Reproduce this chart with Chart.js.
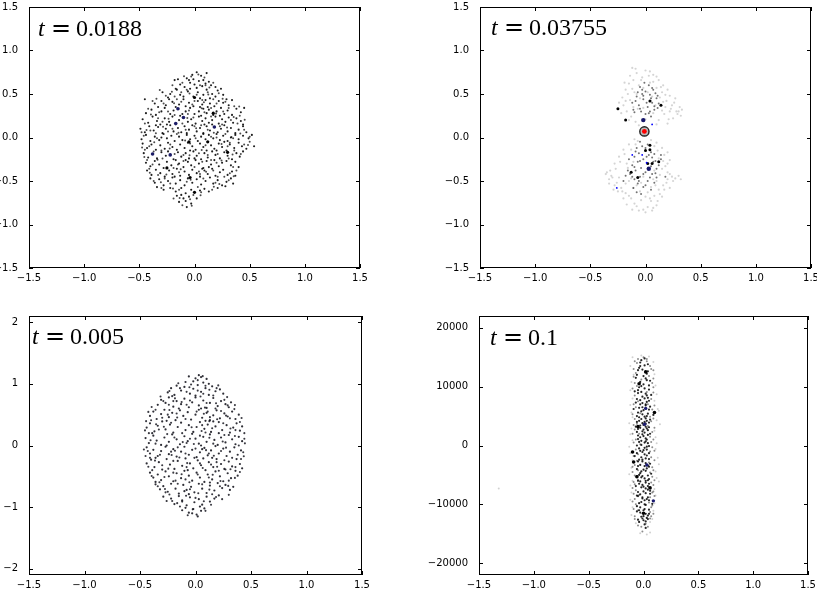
<!DOCTYPE html>
<html>
<head>
<meta charset="utf-8">
<script src="https://cdn.jsdelivr.net/npm/chart.js@4/dist/chart.umd.min.js"></script>
<style>
  html, body { margin: 0; padding: 0; background: #fff; }
  body { width: 817px; height: 594px; position: relative; overflow: hidden; }
  .pane { position: absolute; }
</style>
</head>
<body>
<div class="pane" style="left:0;top:0"><canvas id="p1" width="408" height="297"></canvas></div>
<div class="pane" style="left:408px;top:0"><canvas id="p2" width="409" height="297"></canvas></div>
<div class="pane" style="left:0;top:297px"><canvas id="p3" width="408" height="297"></canvas></div>
<div class="pane" style="left:408px;top:297px"><canvas id="p4" width="409" height="297"></canvas></div>

<script>
// tick positions
const xTicks = [-1.5, -1.0, -0.5, 0.0, 0.5, 1.0, 1.5];
const unitTicks = [-1.5, -1.0, -0.5, 0.0, 0.5, 1.0, 1.5];
const wideTicks = [-2, -1, 0, 1, 2];
const velTicks = [-20000, -10000, 0, 10000, 20000];

// t = 0.0188
const tlDots = [
  [0.02,0.75],[0.11,0.74],[-0.07,0.68],[0.06,0.71],[-0.02,0.72],[0.08,0.66],[-0.15,0.67],[-0.05,0.66],
  [-0.18,0.66],[-0.13,0.61],[-0.04,0.63],[0.0,0.61],[0.04,0.65],[0.1,0.62],[0.15,0.6],[0.19,0.58],[-0.09,0.58],[0.02,0.57],[-0.17,0.56],[0.07,0.59],[0.13,0.64],[-0.01,0.67],
  [-0.29,0.52],[-0.22,0.5],[-0.16,0.55],[-0.1,0.47],[-0.06,0.53],[-0.01,0.47],[0.03,0.52],[0.08,0.49],[0.11,0.55],[0.16,0.5],[0.21,0.54],[0.26,0.49],[-0.24,0.46],[0.14,0.45],[-0.13,0.49],[0.05,0.45],[0.19,0.47],[-0.04,0.56],[0.24,0.56],
  [-0.45,0.44],[-0.36,0.39],[-0.3,0.42],[-0.26,0.37],[-0.2,0.41],[-0.14,0.38],[-0.1,0.44],[-0.05,0.4],[-0.01,0.36],[0.03,0.42],[0.07,0.38],[0.1,0.43],[0.14,0.39],[0.18,0.36],[0.22,0.42],[0.26,0.4],[0.31,0.37],[0.34,0.43],[-0.33,0.35],[-0.17,0.35],[0.12,0.35],[-0.08,0.36],[0.05,0.35],[0.29,0.44],[-0.23,0.44],
  [-0.44,0.28],[-0.39,0.32],[-0.35,0.26],[-0.3,0.3],[-0.27,0.34],[-0.22,0.27],[-0.19,0.31],[-0.11,0.27],[-0.08,0.3],[-0.04,0.34],[0.0,0.27],[0.04,0.3],[0.08,0.33],[0.11,0.28],[0.13,0.32],[0.17,0.26],[0.2,0.3],[0.24,0.34],[0.27,0.27],[0.3,0.31],[0.34,0.26],[0.38,0.33],[0.42,0.29],[0.45,0.34],[-0.13,0.25],[0.06,0.25],[0.23,0.25],
  [-0.47,0.21],[-0.42,0.17],[-0.38,0.24],[-0.34,0.19],[-0.31,0.15],[-0.27,0.22],[-0.23,0.18],[-0.2,0.24],[-0.14,0.2],[-0.06,0.18],[-0.03,0.21],[0.01,0.16],[0.04,0.24],[0.07,0.19],[0.1,0.22],[0.13,0.17],[0.16,0.2],[0.19,0.24],[0.22,0.16],[0.25,0.21],[0.28,0.18],[0.31,0.23],[0.35,0.17],[0.38,0.22],[0.42,0.19],[0.44,0.15],[-0.25,0.15],[0.09,0.15],
  [-0.49,0.1],[-0.45,0.06],[-0.41,0.13],[-0.37,0.08],[-0.33,0.12],[-0.29,0.05],[-0.26,0.1],[-0.22,0.14],[-0.19,0.07],[-0.15,0.11],[-0.12,0.06],[-0.09,0.13],[-0.05,0.09],[-0.02,0.14],[0.02,0.07],[0.05,0.11],[0.08,0.05],[0.11,0.13],[0.14,0.08],[0.21,0.06],[0.24,0.1],[0.27,0.14],[0.3,0.07],[0.33,0.11],[0.37,0.05],[0.4,0.09],[0.44,0.13],[0.47,0.06],[-0.35,0.14],[0.16,0.15],[-0.07,0.05],
  [-0.48,-0.02],[-0.44,0.03],[-0.4,-0.04],[-0.36,0.01],[-0.32,-0.03],[-0.28,0.04],[-0.25,-0.01],[-0.21,0.02],[-0.18,-0.04],[-0.14,0.01],[-0.11,-0.03],[-0.07,0.03],[-0.04,-0.02],[0.0,0.02],[0.03,-0.04],[0.06,0.01],[0.1,-0.02],[0.13,0.03],[0.17,-0.01],[0.2,0.04],[0.23,-0.03],[0.26,0.02],[0.3,-0.04],[0.33,0.0],[0.37,0.03],[0.4,-0.02],[0.44,0.02],[0.49,-0.01],[0.52,0.03],[-0.3,0.0],[0.08,0.04],
  [-0.47,-0.07],[-0.43,-0.12],[-0.39,-0.08],[-0.35,-0.14],[-0.31,-0.09],[-0.27,-0.13],[-0.24,-0.06],[-0.2,-0.11],[-0.16,-0.14],[-0.13,-0.08],[-0.09,-0.12],[-0.06,-0.06],[-0.02,-0.1],[0.01,-0.14],[0.05,-0.07],[0.08,-0.11],[0.11,-0.15],[0.15,-0.09],[0.18,-0.13],[0.22,-0.07],[0.25,-0.11],[0.29,-0.15],[0.32,-0.08],[0.36,-0.12],[0.4,-0.06],[0.43,-0.1],[0.47,-0.13],[0.54,-0.1],[-0.04,-0.15],[0.27,-0.05],[0.2,-0.15],
  [-0.46,-0.18],[-0.42,-0.23],[-0.34,-0.24],[-0.3,-0.17],[-0.26,-0.21],[-0.19,-0.25],[-0.15,-0.17],[-0.12,-0.22],[-0.08,-0.18],[-0.05,-0.24],[-0.01,-0.16],[0.02,-0.21],[0.06,-0.25],[0.09,-0.18],[0.12,-0.23],[0.16,-0.16],[0.19,-0.2],[0.23,-0.24],[0.27,-0.17],[0.3,-0.21],[0.34,-0.25],[0.38,-0.18],[0.41,-0.22],[0.44,-0.16],[-0.24,-0.16],[0.0,-0.24],
  [-0.44,-0.29],[-0.4,-0.33],[-0.36,-0.27],[-0.32,-0.31],[-0.28,-0.35],[-0.25,-0.28],[-0.21,-0.32],[-0.17,-0.26],[-0.14,-0.3],[-0.1,-0.34],[-0.06,-0.28],[-0.03,-0.32],[0.01,-0.26],[0.04,-0.3],[0.08,-0.35],[0.11,-0.27],[0.15,-0.31],[0.18,-0.26],[0.22,-0.33],[0.25,-0.29],[0.29,-0.27],[0.33,-0.32],[0.37,-0.28],[0.4,-0.34],[-0.08,-0.26],[0.13,-0.34],
  [-0.43,-0.38],[-0.39,-0.43],[-0.35,-0.37],[-0.31,-0.41],[-0.27,-0.45],[-0.23,-0.38],[-0.2,-0.42],[-0.16,-0.36],[-0.13,-0.44],[-0.09,-0.39],[-0.05,-0.43],[-0.02,-0.37],[0.02,-0.41],[0.05,-0.45],[0.09,-0.38],[0.12,-0.42],[0.16,-0.36],[0.19,-0.44],[0.23,-0.4],[0.26,-0.37],[0.3,-0.43],[0.34,-0.39],[0.37,-0.44],[-0.18,-0.45],[0.07,-0.36],
  [-0.4,-0.47],[-0.36,-0.52],[-0.32,-0.48],[-0.28,-0.55],[-0.24,-0.5],[-0.2,-0.46],[-0.17,-0.53],[-0.13,-0.49],[-0.09,-0.55],[-0.06,-0.47],[-0.02,-0.52],[0.02,-0.48],[0.06,-0.54],[0.1,-0.5],[0.14,-0.46],[0.17,-0.53],[0.21,-0.49],[0.25,-0.55],[0.29,-0.51],[0.33,-0.47],[0.35,-0.53],
  [-0.34,-0.57],[-0.28,-0.6],[-0.22,-0.58],[-0.17,-0.62],[-0.12,-0.58],[-0.08,-0.64],[-0.03,-0.6],[0.05,-0.61],[0.09,-0.59],[0.13,-0.62],[0.21,-0.58],[0.28,-0.56],
  [-0.16,-0.67],[-0.1,-0.7],[-0.05,-0.68],[-0.14,-0.74],[-0.08,-0.73],[-0.03,-0.76],[-0.07,-0.8],[0.02,-0.7],[-0.12,-0.66]
];
const tlDots2 = [
  [-0.03,0.7],[0.09,0.69],[-0.11,0.63],[0.05,0.6],[0.17,0.63],[-0.2,0.6],[-0.07,0.55],[0.12,0.52],[0.22,0.51],[-0.26,0.48],[-0.18,0.47],[0.02,0.49],[0.07,0.43],[-0.12,0.41],[0.2,0.39],[0.28,0.41],[-0.38,0.42],[-0.28,0.39],[-0.02,0.38],[0.15,0.34],[0.36,0.36],[-0.42,0.33],[-0.24,0.3],[-0.06,0.27],[0.09,0.29],[0.26,0.3],[0.41,0.25],[-0.33,0.22],[-0.18,0.26],[-0.01,0.23],[0.15,0.24],[0.33,0.2],[-0.45,0.16],[-0.29,0.18],[-0.11,0.16],[0.06,0.14],[0.23,0.13],[0.39,0.16],[-0.4,0.08],[-0.24,0.07],[-0.08,0.09],[0.12,0.09],[0.28,0.04],[0.45,0.09],[-0.46,0.02],[-0.34,-0.01],[-0.16,0.04],[0.01,-0.01],[0.15,0.01],[0.35,-0.01],[0.5,0.01],
  [-0.41,-0.1],[-0.22,-0.08],[-0.04,-0.07],[0.1,-0.09],[0.3,-0.1],[0.45,-0.08],[-0.37,-0.16],[-0.18,-0.19],[0.04,-0.18],[0.21,-0.19],[0.36,-0.15],[-0.43,-0.26],[-0.29,-0.24],[-0.1,-0.27],[0.07,-0.28],[0.2,-0.29],[0.31,-0.24],[-0.38,-0.31],[-0.19,-0.35],[0.0,-0.34],[0.17,-0.38],[0.35,-0.34],[-0.33,-0.43],[-0.14,-0.4],[0.04,-0.39],[0.21,-0.45],[0.32,-0.41],[-0.37,-0.5],[-0.22,-0.53],[-0.07,-0.51],[0.08,-0.47],[0.19,-0.52],[0.31,-0.49],[-0.3,-0.58],[-0.14,-0.6],[0.03,-0.57],[0.16,-0.6],[-0.19,-0.7],[-0.01,-0.66],[0.06,-0.63],[-0.11,-0.78],[-0.04,-0.71],
  [-0.16,0.44],[0.17,0.44],[-0.32,0.29],[0.31,0.34],[-0.48,0.06],[0.5,-0.05],[-0.45,-0.14],[0.42,-0.19],[-0.41,-0.36],[0.38,-0.38],[-0.27,-0.47],[0.27,-0.45],[-0.12,0.52],[0.1,0.6],[0.0,0.42],[-0.2,0.1],[0.2,0.0],[-0.1,-0.2],[0.12,-0.2],[0.0,0.13],[-0.3,-0.15],[0.25,0.15],[-0.35,0.05],[0.32,-0.06],[-0.15,-0.31],[0.15,-0.26],[-0.05,0.31],[0.05,-0.42],
  [0.035,0.725],[-0.095,0.705],[0.135,0.575],[-0.205,0.525],[-0.045,0.505],[0.255,0.445],[-0.345,0.445],[0.085,0.405],[-0.185,0.395],[0.405,0.355],[-0.395,0.265],[-0.065,0.225],[0.195,0.275],[0.355,0.235],[-0.285,0.125],[0.015,0.105],[0.295,0.115],[-0.435,0.085],[-0.145,0.055],[0.175,0.055],[0.415,0.045],[-0.365,-0.055],[-0.085,-0.035],[0.245,-0.075],[0.485,-0.085],[-0.455,-0.225],[-0.225,-0.125],[0.065,-0.145],[0.345,-0.195],[-0.335,-0.255],[-0.045,-0.205],[0.245,-0.265],[-0.405,-0.405],[-0.125,-0.365],[0.105,-0.395],[0.355,-0.445],[-0.305,-0.515],[-0.035,-0.485],[0.225,-0.535],[-0.195,-0.585],[0.055,-0.665],[-0.135,-0.695],[0.175,-0.565],[-0.025,-0.785],[0.065,0.335],[-0.235,0.215],[0.335,0.005],[-0.255,-0.425],[0.125,0.495],[-0.315,0.545],[0.455,0.205],[-0.475,-0.115]
];
const tlHeavy = [[0.0,0.46],[0.12,-0.05],[-0.04,-0.46],[0.0,-0.63],[-0.05,-0.05],[0.17,0.28],[0.3,-0.17],[-0.25,-0.35]];
const tlBlue = [[-0.15,0.33],[-0.10,0.23],[-0.17,0.16],[0.18,0.12],[-0.38,-0.19],[-0.22,-0.2]];

// t = 0.03755
const trFaint = [
  [-0.12,0.8],[-0.08,0.74],[0.07,0.72],[-0.03,0.69],[0.12,0.66],[-0.15,0.62],[-0.06,0.6],[0.04,0.63],[0.1,0.57],[-0.18,0.55],[-0.1,0.52],[0.15,0.52],[0.22,0.48],[-0.21,0.46],[-0.14,0.43],[0.19,0.42],[0.26,0.4],[0.31,0.35],[0.28,0.3],[-0.2,0.37],[-0.17,0.3],[0.23,0.33],[0.17,0.27],[0.32,0.25],[0.25,0.22],[-0.13,0.24],[-0.09,0.18],[0.12,0.2],[0.2,0.16],[0.07,0.28],[-0.05,0.45],[0.02,0.52],[-0.11,0.66],[0.0,0.77],[0.13,0.46],[-0.07,0.33],[0.09,0.37],[0.05,0.42],[-0.02,0.57],[0.16,0.6],[-0.16,0.5],[0.27,0.45],[0.3,0.3],[0.18,0.35],
  [-0.09,0.79],[0.04,0.76],[-0.14,0.71],[0.1,0.7],[-0.04,0.66],[0.07,0.64],[-0.19,0.63],[0.14,0.58],[-0.12,0.56],[0.2,0.55],[-0.08,0.5],[0.06,0.47],[0.18,0.49],[-0.18,0.42],[0.24,0.37],[-0.11,0.35],[0.15,0.31],[-0.22,0.28],[0.29,0.27],[0.21,0.21],[-0.15,0.2],[0.1,0.15],[-0.06,0.14],[0.16,0.41],[-0.02,0.34],[0.03,0.71],[0.22,0.3],[0.33,0.32],[-0.24,0.4],[0.0,0.21],
  [-0.1,-0.02],[0.05,-0.03],[-0.15,-0.08],[0.1,-0.06],[0.15,-0.12],[-0.2,-0.14],[0.2,-0.17],[-0.24,-0.22],[0.22,-0.26],[-0.28,-0.3],[0.18,-0.33],[-0.32,-0.38],[0.2,-0.4],[-0.35,-0.4],[0.24,-0.45],[-0.3,-0.46],[0.2,-0.48],[-0.26,-0.52],[0.16,-0.55],[-0.22,-0.58],[0.12,-0.6],[-0.18,-0.64],[0.08,-0.67],[-0.13,-0.7],[0.05,-0.73],[-0.1,-0.76],[0.02,-0.8],[-0.06,-0.84],[0.0,-0.86],[-0.12,-0.83],[0.1,-0.78],[-0.2,-0.7],[-0.25,-0.62],[0.15,-0.68],[0.05,-0.57],[-0.05,-0.62],[-0.15,-0.5],[0.1,-0.5],[-0.08,-0.55],[0.0,-0.68],[-0.16,-0.35],[0.12,-0.24],[-0.02,-0.45],[0.08,-0.38],[-0.11,-0.28],[0.17,-0.6],[-0.28,-0.55],[0.25,-0.5],[0.3,-0.44],[-0.33,-0.48],[-0.04,-0.72],[0.06,-0.84],
  [-0.07,-0.04],[0.08,-0.1],[-0.13,-0.14],[0.17,-0.2],[-0.19,-0.19],[0.2,-0.3],[-0.23,-0.28],[0.15,-0.36],[-0.27,-0.36],[0.22,-0.42],[-0.31,-0.44],[0.27,-0.47],[-0.24,-0.46],[0.13,-0.43],[-0.18,-0.53],[0.19,-0.52],[-0.11,-0.58],[0.09,-0.55],[-0.21,-0.62],[0.13,-0.65],[-0.15,-0.67],[0.04,-0.7],[-0.08,-0.79],[0.07,-0.81],[-0.02,-0.83],[0.11,-0.73],[-0.17,-0.77],[-0.29,-0.6],[0.22,-0.58],[-0.33,-0.53],[0.32,-0.48],[-0.36,-0.42],[0.02,-0.63],[-0.04,-0.52],[0.07,-0.48],[-0.13,-0.47],[0.16,-0.27],[-0.17,-0.3],[0.11,-0.15],[-0.09,-0.08]
];
const trMid = [
  [-0.05,0.58],[0.0,0.53],[0.04,0.49],[-0.08,0.47],[-0.02,0.44],[0.06,0.4],[-0.06,0.37],[0.02,0.35],[0.08,0.32],[-0.04,0.3],[0.0,0.27],[0.05,0.24],[-0.1,0.29],[0.1,0.45],[-0.12,0.4],[0.03,0.6],[-0.01,0.63],[0.09,0.51],[-0.07,0.52],[0.12,0.39],[0.11,0.34],[0.01,0.4],[0.04,0.3],[-0.03,0.5],[0.07,0.55],
  [-0.03,0.55],[0.05,0.45],[-0.09,0.42],[0.08,0.36],[-0.05,0.33],[0.03,0.28],[-0.02,0.48],[0.11,0.48],[-0.11,0.32],[0.06,0.57],
  [-0.05,-0.05],[0.02,-0.08],[-0.08,-0.12],[0.0,-0.12],[-0.06,-0.18],[0.03,-0.2],[-0.1,-0.22],[0.06,-0.23],[-0.02,-0.25],[0.09,-0.27],[-0.07,-0.28],[-0.12,-0.32],[0.05,-0.33],[-0.04,-0.35],[0.1,-0.36],[-0.09,-0.38],[0.0,-0.4],[-0.14,-0.42],[0.06,-0.42],[-0.05,-0.45],[0.1,-0.46],[-0.18,-0.44],[-0.1,-0.48],[0.02,-0.5],[-0.07,-0.53],[0.14,-0.2],[0.08,-0.19],[-0.15,-0.25],[-0.02,-0.57],[0.05,-0.6],[-0.08,-0.63],[0.18,-0.45],[-0.2,-0.5],
  [-0.03,-0.1],[0.05,-0.17],[-0.09,-0.16],[0.01,-0.22],[-0.05,-0.27],[0.07,-0.28],[-0.1,-0.34],[0.02,-0.36],[-0.02,-0.42],[0.09,-0.41],[-0.12,-0.45],[0.04,-0.46],[-0.06,-0.5],[0.12,-0.32],[-0.16,-0.38],[0.0,-0.55],[-0.11,-0.58],[0.08,-0.52],[-0.04,-0.65],[0.14,-0.25]
];
const trDark = [[0.14,0.37],[-0.25,0.33],[-0.18,0.2],[0.04,0.42],[0.04,-0.09],[0.0,-0.15],[0.02,-0.3],[0.06,-0.3],[-0.07,-0.46],[0.12,-0.28],[-0.13,-0.4],[0.04,-0.14]];
const trBlue = [[-0.02,0.2],[0.03,-0.36]];
const trBlueSmall = [[-0.26,-0.58],[0.06,0.15],[-0.12,-0.2],[-0.03,-0.2],[0.01,-0.29]];
const trCore = [[-0.01,0.07]];

// t = 0.005
const blDots = [
  [-0.06,1.12],[0.0,1.09],[0.05,1.11],[0.1,1.08],[-0.02,1.04],[0.07,1.02],[0.12,1.0],[-0.09,1.03],[0.03,1.14],
  [-0.22,0.93],[-0.25,0.86],[-0.17,0.97],[-0.13,0.89],[-0.1,0.95],[-0.05,0.84],[-0.02,0.92],[0.02,0.98],[0.05,0.87],[0.09,0.93],[0.12,0.82],[0.15,0.96],[0.18,0.88],[0.22,0.91],[-0.19,0.82],[0.0,0.81],[0.25,0.84],
  [-0.34,0.66],[-0.31,0.74],[-0.27,0.69],[-0.24,0.78],[-0.2,0.63],[-0.17,0.72],[-0.13,0.67],[-0.1,0.76],[-0.06,0.62],[-0.03,0.7],[0.0,0.78],[0.03,0.65],[0.07,0.73],[0.1,0.61],[0.13,0.69],[0.16,0.77],[0.2,0.64],[0.23,0.72],[0.27,0.67],[0.3,0.62],[0.32,0.7],[-0.15,0.6],[0.05,0.6],
  [-0.41,0.48],[-0.38,0.55],[-0.35,0.43],[-0.31,0.51],[-0.28,0.58],[-0.24,0.46],[-0.21,0.53],[-0.18,0.41],[-0.14,0.57],[-0.11,0.48],[-0.07,0.54],[-0.04,0.42],[0.0,0.5],[0.03,0.58],[0.06,0.45],[0.1,0.53],[0.13,0.41],[0.16,0.49],[0.19,0.57],[0.22,0.44],[0.26,0.52],[0.29,0.47],[0.33,0.55],[0.36,0.43],[0.39,0.5],[-0.26,0.4],[0.09,0.4],
  [-0.44,0.29],[-0.41,0.36],[-0.37,0.23],[-0.34,0.32],[-0.3,0.39],[-0.27,0.26],[-0.23,0.34],[-0.2,0.21],[-0.16,0.3],[-0.13,0.37],[-0.09,0.25],[-0.06,0.33],[-0.02,0.22],[0.01,0.3],[0.04,0.38],[0.08,0.27],[0.11,0.34],[0.14,0.22],[0.18,0.31],[0.21,0.38],[0.24,0.25],[0.28,0.33],[0.31,0.21],[0.34,0.29],[0.37,0.36],[0.4,0.24],[0.42,0.31],[-0.39,0.2],[0.16,0.39],
  [-0.45,0.12],[-0.42,0.04],[-0.38,0.16],[-0.35,0.08],[-0.31,0.01],[-0.28,0.13],[-0.24,0.06],[-0.21,0.18],[-0.17,0.1],[-0.14,0.02],[-0.1,0.15],[-0.07,0.07],[-0.03,0.19],[0.0,0.11],[0.03,0.03],[0.07,0.14],[0.1,0.06],[0.13,0.18],[0.17,0.09],[0.2,0.01],[0.23,0.13],[0.27,0.05],[0.3,0.17],[0.33,0.1],[0.36,0.02],[0.39,0.14],[0.42,0.07],[-0.26,0.0],[0.05,0.0],[0.21,0.2],
  [-0.44,-0.03],[-0.41,-0.13],[-0.38,-0.07],[-0.34,-0.17],[-0.31,-0.09],[-0.27,-0.02],[-0.24,-0.14],[-0.2,-0.06],[-0.17,-0.18],[-0.13,-0.1],[-0.1,-0.02],[-0.06,-0.15],[-0.03,-0.07],[0.01,-0.19],[0.04,-0.11],[0.08,-0.04],[0.11,-0.16],[0.14,-0.08],[0.18,-0.01],[0.21,-0.13],[0.25,-0.05],[0.28,-0.17],[0.31,-0.1],[0.35,-0.03],[0.38,-0.15],[0.41,-0.08],[-0.36,-0.2],[0.15,-0.2],[0.06,-0.06],
  [-0.44,-0.29],[-0.4,-0.23],[-0.37,-0.35],[-0.33,-0.27],[-0.3,-0.39],[-0.26,-0.22],[-0.23,-0.31],[-0.19,-0.38],[-0.16,-0.25],[-0.12,-0.33],[-0.09,-0.21],[-0.05,-0.29],[-0.02,-0.37],[0.02,-0.24],[0.05,-0.32],[0.09,-0.4],[0.12,-0.27],[0.16,-0.35],[0.19,-0.22],[0.23,-0.3],[0.26,-0.38],[0.3,-0.26],[0.33,-0.34],[0.37,-0.22],[0.4,-0.3],[0.42,-0.37],[-0.07,-0.4],[0.07,-0.21],
  [-0.41,-0.44],[-0.38,-0.52],[-0.34,-0.47],[-0.31,-0.56],[-0.27,-0.42],[-0.24,-0.5],[-0.2,-0.58],[-0.17,-0.45],[-0.13,-0.53],[-0.1,-0.41],[-0.06,-0.49],[-0.03,-0.57],[0.01,-0.44],[0.04,-0.52],[0.08,-0.59],[0.11,-0.47],[0.15,-0.55],[0.18,-0.42],[0.22,-0.5],[0.25,-0.58],[0.29,-0.45],[0.32,-0.53],[0.36,-0.41],[0.38,-0.49],[-0.36,-0.59],[0.13,-0.6],
  [-0.36,-0.63],[-0.32,-0.71],[-0.29,-0.66],[-0.25,-0.75],[-0.22,-0.62],[-0.18,-0.7],[-0.15,-0.78],[-0.11,-0.64],[-0.08,-0.72],[-0.1,-0.74],[-0.04,-0.67],[-0.01,-0.76],[0.03,-0.62],[0.06,-0.7],[0.1,-0.77],[0.13,-0.65],[0.17,-0.73],[0.2,-0.61],[0.24,-0.69],[0.27,-0.64],[0.31,-0.72],[0.34,-0.67],[-0.06,-0.79],
  [-0.29,-0.83],[-0.26,-0.9],[-0.22,-0.86],[-0.19,-0.95],[-0.15,-0.82],[-0.12,-0.89],[-0.08,-0.97],[-0.05,-0.84],[-0.01,-0.92],[0.03,-0.87],[0.06,-0.96],[0.1,-0.83],[0.13,-0.91],[0.17,-0.86],[0.21,-0.81],[0.04,-0.99],
  [-0.12,-1.05],[-0.06,-1.09],[-0.02,-1.03],[0.01,-1.12],[0.05,-1.06],[0.08,-1.02],[-0.09,-1.01],[0.02,-1.15],[-0.03,-1.1]
];
const blDots2 = [
  [0.02,1.06],[-0.04,0.99],[0.09,0.97],[-0.14,0.93],[0.19,0.93],[-0.08,0.87],[0.07,0.84],[-0.21,0.8],[0.16,0.81],[-0.29,0.72],[-0.05,0.73],[0.1,0.69],[0.26,0.74],[-0.24,0.66],[-0.08,0.66],[0.18,0.6],[-0.36,0.58],[-0.17,0.52],[0.01,0.55],[0.23,0.56],[0.35,0.59],[-0.3,0.45],[-0.09,0.43],[0.13,0.46],[0.31,0.44],[-0.4,0.41],[-0.22,0.37],[0.06,0.33],[0.25,0.36],[0.4,0.38],[-0.33,0.26],[-0.12,0.2],[0.15,0.28],[0.36,0.25],[-0.42,0.2],[-0.19,0.13],[0.04,0.16],[0.26,0.17],[0.44,0.11],[-0.36,0.03],[-0.08,0.04],[0.16,0.03],[0.39,0.0],
  [-0.43,-0.09],[-0.22,-0.1],[0.0,-0.05],[0.23,-0.09],[0.43,-0.11],[-0.32,-0.15],[-0.09,-0.13],[0.12,-0.13],[0.33,-0.2],[-0.41,-0.2],[-0.2,-0.25],[0.04,-0.29],[0.26,-0.24],[0.41,-0.22],[-0.3,-0.32],[-0.08,-0.35],[0.14,-0.31],[0.36,-0.35],[-0.39,-0.4],[-0.2,-0.44],[0.02,-0.47],[0.21,-0.41],[0.4,-0.43],[-0.28,-0.51],[-0.09,-0.55],[0.12,-0.52],[0.3,-0.57],[-0.34,-0.66],[-0.16,-0.62],[0.06,-0.63],[0.22,-0.66],[-0.27,-0.76],[-0.05,-0.71],[0.15,-0.79],[0.3,-0.8],[-0.21,-0.9],[0.0,-0.85],[0.14,-0.96],[-0.14,-0.99],[0.09,-1.06],[-0.07,-1.13],[-0.12,-0.91],[0.24,-0.87],
  [-0.18,-0.57],[0.27,-0.39],[-0.25,0.5],[0.29,0.65],[-0.45,-0.17],[0.44,0.2],[-0.05,0.11],[0.09,0.21],[-0.16,-0.03],[0.19,-0.27],[-0.01,-0.2],[0.11,0.55],[-0.2,0.72],[0.02,0.89],
  [-0.155,1.01],[0.065,1.125],[-0.235,0.885],[0.205,0.975],[-0.055,0.945],[0.125,0.905],[-0.315,0.795],[0.285,0.785],[-0.185,0.765],[0.045,0.795],[-0.395,0.625],[0.355,0.655],[-0.125,0.705],[0.185,0.685],[-0.425,0.545],[-0.235,0.575],[0.075,0.515],[0.275,0.485],[-0.445,0.395],[-0.165,0.455],[0.195,0.425],[0.415,0.445],[-0.355,0.345],[-0.035,0.295],[0.125,0.395],[0.315,0.275],[-0.455,0.245],[-0.255,0.185],[0.055,0.235],[0.355,0.155],[-0.405,0.085],[-0.115,0.055],[0.125,0.125],[0.445,0.035],
  [-0.465,-0.065],[-0.185,-0.085],[0.095,-0.075],[0.275,-0.035],[-0.365,-0.245],[-0.145,-0.195],[0.165,-0.165],[0.435,-0.175],[-0.425,-0.345],[-0.245,-0.375],[0.065,-0.365],[0.315,-0.385],[-0.395,-0.495],[-0.125,-0.465],[0.155,-0.475],[0.355,-0.525],[-0.325,-0.595],[-0.055,-0.595],[0.225,-0.575],[-0.275,-0.705],[-0.085,-0.815],[0.125,-0.715],[0.295,-0.655],[-0.235,-0.795],[0.185,-0.835],[-0.165,-0.935],[0.075,-0.905],[-0.025,-1.035],[0.025,-0.775],[-0.015,0.025],[0.245,0.065],[-0.285,0.305],[0.085,0.615],[-0.075,-0.285],[0.195,-0.345],[-0.215,-0.155]
];

// t = 0.1
const brFaint = [
  [-0.1,15000],[0.05,15100],[0.09,14200],[-0.12,13500],[-0.09,12000],[0.1,12100],[-0.11,10800],[0.11,10200],[-0.12,9400],[0.12,8700],[-0.1,8000],[0.1,7600],[-0.12,6900],[0.13,6200],[-0.11,5600],[0.14,5900],[-0.1,4800],[0.12,4300],[-0.13,3800],[0.15,3600],[-0.11,2900],[0.1,2500],[-0.12,1900],[0.11,1400],[-0.1,900],[0.12,400],[-0.13,-200],[0.11,-600],[-0.12,-1300],[0.13,-2100],[-0.1,-2500],[0.14,-3200],[-0.11,-3800],[0.11,-4400],[-0.13,-4900],[0.12,-5500],[-0.1,-6000],[0.14,-6100],[-0.12,-6800],[0.1,-7400],[-0.11,-8000],[0.11,-8500],[-0.12,-9200],[0.1,-9800],[-0.1,-10500],[0.09,-11100],[-0.11,-11800],[0.08,-12500],[-0.07,-13200],[0.06,-13000],[-0.03,-14900],[0.03,-15100],[0.06,-14800],[-0.02,15300],[-1.32,-7300]
];
const brMid = [
  [-0.06,14000],[0.03,14300],[0.07,13000],[-0.07,12300],[0.05,11800],[-0.02,11200],[0.08,10600],[-0.06,10100],[0.03,9100],[-0.08,8500],[0.07,7900],[-0.05,7500],[0.04,7000],[-0.07,6500],[0.08,6100],[-0.03,5500],[0.06,4900],[-0.08,4500],[0.07,4100],[-0.06,3700],[0.04,3300],[-0.08,2700],[0.08,2300],[-0.04,2000],[0.06,1500],[-0.07,1000],[0.07,600],[-0.03,200],[0.08,-300],[-0.07,-700],[0.06,-1000],[-0.05,-1500],[0.07,-2000],[-0.06,-2600],[0.05,-2900],[-0.08,-3300],[0.08,-3700],[-0.05,-4200],[0.06,-4600],[-0.08,-5100],[0.08,-5300],[-0.05,-5800],[0.07,-6300],[-0.08,-6600],[0.05,-7100],[-0.07,-7600],[0.08,-8000],[-0.04,-8400],[0.06,-8800],[-0.08,-9100],[0.05,-9700],[-0.07,-10000],[0.07,-10500],[-0.05,-11000],[0.06,-11300],[-0.08,-12000],[0.06,-12400],[-0.04,-12900],[0.02,-13300],[-0.02,-13800],
  [0.0,15000],[-0.08,14300],[0.06,13500],[-0.09,13000],[0.09,12800],[-0.09,11700],[0.09,11400],[-0.08,10600],[0.09,9900],[-0.1,9700],[0.09,9000],[-0.09,7000],[0.1,6800],[-0.1,5300],[0.09,4600],[-0.09,3500],[0.1,3000],[-0.1,2000],[0.09,1000],[-0.09,500],[0.1,-900],[-0.09,-1800],[0.1,-2500],[-0.1,-3600],[0.09,-4200],[-0.1,-4500],[0.1,-5900],[-0.09,-6200],[0.09,-6700],[-0.1,-7200],[0.09,-7800],[-0.09,-8200],[0.1,-8600],[-0.1,-9500],[0.08,-10200],[-0.09,-10800],[0.09,-11600],[-0.08,-12500],[0.07,-12000],[-0.05,-13600],[0.04,-13800],[-0.01,-14600],[0.03,14700],[-0.05,14700]
];
const brDark = [
  [-0.02,14500],[0.01,13600],[-0.05,12800],[0.03,12200],[-0.07,11500],[0.06,11000],[0.0,10400],[-0.04,9900],[0.05,9500],[-0.08,9200],[0.02,8800],[-0.01,8300],[0.07,8600],[-0.06,7900],[0.03,7400],[-0.03,7000],[0.06,6600],[-0.09,6200],[-0.02,5800],[0.04,5400],[-0.06,5000],[0.09,5200],[0.02,4600],[-0.04,4200],[0.05,3900],[0.0,3500],[-0.07,3200],[0.03,2900],[-0.01,2400],[0.06,2000],[-0.05,1700],[0.02,1200],[-0.02,800],[0.04,400],[-0.06,0],[0.01,-400],[-0.03,-900],[0.05,-1300],[-0.08,-1800],[0.02,-2200],[-0.01,-2700],[0.06,-3100],[-0.05,-3500],[0.03,-3900],[-0.02,-4400],[0.07,-4800],[-0.06,-5200],[0.01,-5600],[-0.03,-6100],[0.05,-6500],[-0.07,-6900],[0.02,-7300],[0.0,-7800],[0.06,-8200],[-0.05,-8600],[0.03,-9100],[-0.02,-9600],[0.08,-9900],[-0.06,-10300],[0.01,-10800],[-0.03,-11400],[0.04,-11900],[-0.01,-12400],[0.02,-12900],
  [-0.04,13200],[0.04,12600],[-0.03,10800],[0.01,9700],[-0.05,8900],[0.04,8100],[-0.01,7200],[0.0,6000],[-0.04,4800],[0.01,4000],[-0.03,3000],[0.04,2600],[0.0,1600],[-0.04,600],[0.03,-200],[-0.01,-1100],[0.03,-1700],[-0.04,-2400],[0.04,-3400],[0.0,-4100],[-0.04,-5000],[0.04,-5900],[-0.01,-6700],[0.04,-7500],[-0.03,-8300],[0.01,-9300],[-0.04,-11000],[0.05,-11600],[0.0,-12000],[-0.05,-12600],[0.03,-12300],
  [0.01,14800],[-0.03,14100],[0.04,13800],[-0.01,12900],[-0.06,12000],[0.02,11400],[-0.02,10100],[0.05,10200],[-0.05,9400],[0.03,8500],[-0.03,7700],[0.05,7600],[-0.07,7300],[0.02,6800],[-0.04,6400],[0.05,6100],[-0.01,5300],[-0.05,5600],[0.03,5000],[-0.02,4500],[0.06,4400],[-0.06,4000],[0.02,3700],[-0.03,3400],[0.05,3100],[-0.05,2800],[0.01,2200],[-0.06,2300],[0.04,1800],[-0.03,1400],[0.03,1000],[-0.05,1100],[0.01,500],[-0.02,100],[0.05,-100],[-0.04,-500],[0.03,-700],[-0.06,-1300],[0.01,-1500],[-0.02,-2000],[0.05,-2300],[-0.05,-2700],[0.02,-3000],[-0.03,-3300],[0.05,-3600],[-0.06,-4000],[0.02,-4300],[-0.03,-4700],[0.04,-5100],[-0.02,-5400],[0.05,-5700],[-0.05,-6000],[0.02,-6300],[-0.04,-6500],[0.04,-6900],[-0.02,-7100],[0.06,-7700],[-0.05,-7900],[0.02,-8100],[-0.06,-8500],[0.04,-8800],[-0.01,-9000],[0.05,-9300],[-0.04,-9800],[0.02,-10100],[-0.03,-10500],[0.05,-10900],[-0.06,-11200],[0.02,-11600],[-0.02,-12100],[0.04,-12500],[-0.04,-13000],[0.01,-13400],[0.0,-12700],[0.02,-14000],
  [-0.03,13500],[0.0,11800],[0.03,11100],[-0.02,9100],[0.01,8000],[0.02,7000],[-0.01,6500],[0.01,4900],[0.03,4200],[-0.01,3800],[0.02,3200],[0.0,2700],[-0.01,1900],[0.02,700],[0.0,-800],[-0.01,-2400],[0.01,-3500],[-0.01,-5200],[0.02,-6000],[0.0,-7000],[-0.01,-8800],[0.01,-10000],[0.0,-11000]
];
const brHeavy = [[-0.09,-2800],[-0.1,-1100],[-0.06,-5300],[-0.04,10500],[0.02,12500],[0.06,-7200],[-0.05,3200],[0.1,5600],[0.0,-11500]];
const brBlue = [[0.02,6300],[0.01,3600],[0.09,-9400],[0.03,-3300]];

function pts(list) {
  return list.map(p => ({ x: p[0], y: p[1] }));
}

function dots(list, color, r) {
  return { data: pts(list), pointRadius: r, pointBorderWidth: 0, pointBackgroundColor: color, pointHoverRadius: r };
}

function fmtTick(v, dec) {
  const s = Math.abs(v).toFixed(dec);
  return v < 0 ? '\u2212' + s : s;
}

// box outline, inward ticks on all four sides, and the time stamp
const frame = {
  id: 'frame',
  afterDraw(chart, args, opts) {
    const { ctx, chartArea: a, scales } = chart;
    ctx.save();
    ctx.strokeStyle = '#000';
    ctx.lineWidth = 1;
    ctx.strokeRect(Math.round(a.left) + 0.5, Math.round(a.top) + 0.5, Math.round(a.width) - 1, Math.round(a.height) - 1);
    ctx.beginPath();
    scales.x.ticks.forEach(t => {
      const px = Math.round(scales.x.getPixelForValue(t.value)) + 0.5;
      ctx.moveTo(px, a.bottom); ctx.lineTo(px, a.bottom - 4);
      ctx.moveTo(px, a.top); ctx.lineTo(px, a.top + 4);
    });
    scales.y.ticks.forEach(t => {
      const py = Math.round(scales.y.getPixelForValue(t.value)) + 0.5;
      ctx.moveTo(a.left, py); ctx.lineTo(a.left + 4, py);
      ctx.moveTo(a.right, py); ctx.lineTo(a.right - 4, py);
    });
    ctx.stroke();

    const x = a.left + opts.dx, y = a.top + opts.dy;
    ctx.fillStyle = '#000';
    ctx.textBaseline = 'alphabetic';
    ctx.font = 'italic 24px "Liberation Serif"';
    ctx.fillText('t', x, y);
    ctx.font = '24px "DejaVu Serif"';
    ctx.fillText('=', x + 13, y);
    ctx.font = '24px "Liberation Serif"';
    ctx.fillText(opts.text, x + 38, y);
    ctx.restore();
  }
};

function panel(id, pad, yWidth, yMin, yMax, yTickVals, yDec, stamp, datasets) {
  new Chart(document.getElementById(id), {
    type: 'scatter',
    data: { datasets },
    plugins: [frame],
    options: {
      responsive: false,
      animation: false,
      events: [],
      layout: { padding: pad },
      plugins: { legend: { display: false }, tooltip: { enabled: false }, frame: stamp },
      scales: {
        x: {
          type: 'linear', min: -1.5, max: 1.5,
          grid: { display: false }, border: { display: false },
          afterBuildTicks: s => { s.ticks = xTicks.map(v => ({ value: v })); },
          afterFit: s => { s.height = 16; s.paddingLeft = 0; s.paddingRight = 0; },
          ticks: { padding: -4, color: '#000', font: { family: 'DejaVu Sans', size: 10 }, maxRotation: 0,
                   callback: v => fmtTick(v, 1) }
        },
        y: {
          type: 'linear', min: yMin, max: yMax,
          grid: { display: false }, border: { display: false },
          afterBuildTicks: s => { s.ticks = yTickVals.map(v => ({ value: v })); },
          afterFit: s => { s.width = yWidth; s.paddingTop = 0; s.paddingBottom = 0; },
          ticks: { padding: 3, color: '#000', font: { family: 'DejaVu Sans', size: 10 },
                   callback: v => fmtTick(v, yDec) }
        }
      }
    }
  });
}

panel('p1', { left: 0, right: 48, top: 7, bottom: 13 }, 29, -1.5, 1.5, unitTicks, 1, { text: '0.0188', dx: 9, dy: 29 }, [
  dots(tlBlue, '#1b1b66', 1.8),
  dots(tlHeavy, '#000', 1.6),
  dots(tlDots, 'rgba(0,0,0,0.88)', 1.05),
  dots(tlDots2, 'rgba(0,0,0,0.7)', 1.0)
]);

panel('p2', { left: 0, right: 6, top: 7, bottom: 13 }, 72, -1.5, 1.5, unitTicks, 1, { text: '0.03755', dx: 11, dy: 28 }, [
  dots(trCore, '#ff0000', 2.4),
  { data: pts(trCore), pointRadius: 4.6, pointBorderWidth: 1.4, pointBorderColor: '#222', pointBackgroundColor: '#bbb' },
  dots(trBlue, '#16166a', 2.2),
  dots(trBlueSmall, '#0000ff', 0.9),
  dots(trDark, '#000', 1.5),
  dots(trMid, 'rgba(0,0,0,0.55)', 1.0),
  dots(trFaint, 'rgba(0,0,0,0.17)', 1.1)
]);

panel('p3', { left: 0, right: 46, top: 19, bottom: 3 }, 29, -2.1, 2.1, wideTicks, 0, { text: '0.005', dx: 3, dy: 28 }, [
  dots(blDots, 'rgba(10,10,20,0.85)', 1.1),
  dots(blDots2, 'rgba(10,10,20,0.8)', 1.05)
]);

panel('p4', { left: 0, right: 9, top: 19, bottom: 3 }, 71, -22000, 22000, velTicks, 0, { text: '0.1', dx: 11, dy: 29 }, [
  dots(brBlue, '#1a1a70', 1.7),
  dots(brHeavy, '#000', 1.8),
  dots(brDark, 'rgba(0,0,0,0.85)', 1.1),
  dots(brMid, 'rgba(0,0,0,0.45)', 1.0),
  dots(brFaint, 'rgba(0,0,0,0.18)', 1.0)
]);
</script>
</body>
</html>
